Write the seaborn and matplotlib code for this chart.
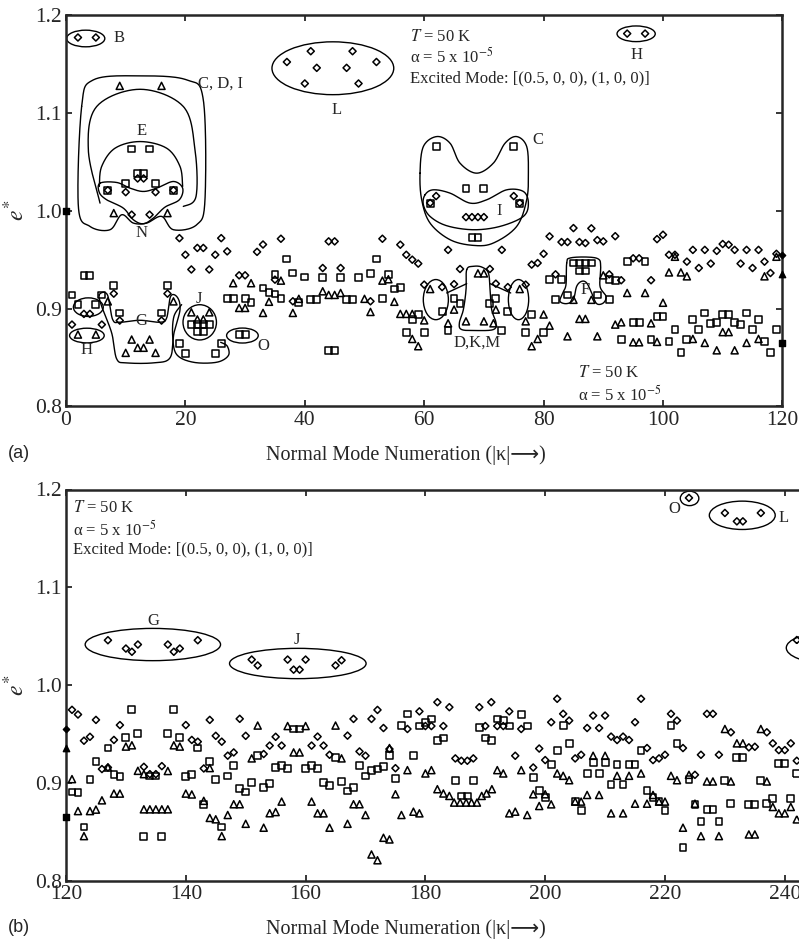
import numpy as np
import pandas as pd
import matplotlib
matplotlib.use("Agg")
import matplotlib.pyplot as plt
import seaborn as sns
from matplotlib.patches import Ellipse

sns.set_style("ticks")
plt.rcParams["font.family"] = ["Liberation Serif", "DejaVu Serif", "DejaVu Sans"]
plt.rcParams["mathtext.fontset"] = "stix"

# ---------------- data (mode number, e*) ----------------
diamonds_a = [
    (2, 1.177), (5, 1.177),
    (41, 1.163), (48, 1.163), (37, 1.152), (52, 1.152), (42, 1.146), (47, 1.146), (40, 1.130), (49, 1.130),
    (94, 1.181), (97, 1.181),
    (12, 1.033), (13, 1.033), (7, 1.021), (18, 1.021), (10, 1.019), (15, 1.019), (11, 0.996), (14, 0.996),
    (62, 1.015), (75, 1.015), (61, 1.008), (76, 1.008), (67, 0.9935), (68, 0.9935), (69, 0.9935), (70, 0.9935),
    (64, 0.960), (73, 0.960),
    (19, 0.972), (26, 0.972), (20, 0.955), (22, 0.962), (23, 0.962), (25, 0.955), (27, 0.9585), (21, 0.940),
    (24, 0.940), (32, 0.958), (33, 0.9655), (36, 0.9714), (29, 0.934), (30, 0.934), (35, 0.9296),
    (44, 0.9687), (45, 0.9687), (53, 0.9714), (56, 0.9653), (57, 0.955), (58, 0.950), (59, 0.946),
    (43, 0.9415), (46, 0.9415), (38, 0.9075), (51, 0.9075),
    (1, 0.8837), (3, 0.8946), (4, 0.8946), (6, 0.8837), (8, 0.9153), (17, 0.9153), (9, 0.8878), (16, 0.8878),
    (60, 0.9245), (63, 0.922), (65, 0.925), (66, 0.9405), (71, 0.9405), (72, 0.9255), (74, 0.922), (77, 0.9245),
    (78, 0.945), (79, 0.9466), (80, 0.956), (81, 0.9738), (82, 0.935), (83, 0.968), (84, 0.968), (85, 0.9823),
    (86, 0.968), (87, 0.967), (88, 0.982), (89, 0.970), (90, 0.9687), (91, 0.935), (92, 0.974), (93, 0.929),
    (95, 0.9514), (96, 0.9514), (98, 0.929), (99, 0.971), (100, 0.9755), (101, 0.955), (102, 0.955),
    (104, 0.948), (105, 0.960), (106, 0.9415), (107, 0.960), (108, 0.946), (109, 0.959), (110, 0.966),
    (111, 0.9653), (112, 0.960), (113, 0.946), (114, 0.960), (115, 0.9415), (116, 0.960), (117, 0.948),
    (118, 0.9364), (119, 0.956), (120, 0.955),
]
squares_a = [
    (0, 1.0),
    (11, 1.063), (14, 1.063), (12, 1.038), (13, 1.038), (10, 1.028), (15, 1.028), (7, 1.021), (18, 1.021),
    (62, 1.0656), (75, 1.0656), (67, 1.023), (70, 1.023), (61, 1.007), (76, 1.007), (68, 0.973), (69, 0.973),
    (3, 0.934), (4, 0.934), (1, 0.914), (2, 0.904), (5, 0.904), (6, 0.914), (8, 0.9235), (9, 0.8956),
    (17, 0.9235), (16, 0.8956),
    (21, 0.884), (22, 0.884), (23, 0.884), (24, 0.884), (22, 0.877), (23, 0.877), (19, 0.864), (20, 0.854),
    (25, 0.854), (26, 0.864), (29, 0.8735), (30, 0.8735),
    (27, 0.910), (28, 0.910), (30, 0.910), (31, 0.906), (33, 0.921), (34, 0.9166), (35, 0.915), (36, 0.910),
    (37, 0.9507), (52, 0.9507), (35, 0.9347), (38, 0.9364), (40, 0.9323), (43, 0.932), (46, 0.932),
    (49, 0.932), (51, 0.936), (54, 0.9347), (39, 0.906), (41, 0.909), (42, 0.909), (47, 0.909), (48, 0.909),
    (53, 0.910), (55, 0.920), (56, 0.9217), (44, 0.857), (45, 0.857),
    (59, 0.894), (58, 0.889), (57, 0.876), (60, 0.876), (65, 0.910), (66, 0.905), (71, 0.905), (72, 0.910),
    (63, 0.8973), (74, 0.8973), (64, 0.8776), (73, 0.8776),
    (78, 0.894), (77, 0.876), (80, 0.876), (81, 0.930), (83, 0.930), (85, 0.9466), (86, 0.9466),
    (87, 0.9466), (88, 0.9466), (86, 0.9384), (87, 0.9384), (82, 0.909), (84, 0.914), (89, 0.914),
    (91, 0.909), (91, 0.930), (92, 0.9286), (94, 0.948), (97, 0.948), (95, 0.886), (96, 0.886), (99, 0.892),
    (100, 0.892), (102, 0.8786), (105, 0.889), (107, 0.8956), (106, 0.8786), (108, 0.8847), (109, 0.886),
    (110, 0.894), (111, 0.894), (112, 0.886), (113, 0.8837), (114, 0.8956), (115, 0.8786), (116, 0.889),
    (119, 0.8786), (120, 0.865), (93, 0.8684), (98, 0.8684), (101, 0.8667), (103, 0.8554), (104, 0.8684),
    (117, 0.8667), (118, 0.8554),
]
triangles_a = [
    (9, 1.1276), (16, 1.1276), (8, 0.9976), (17, 0.9976),
    (2, 0.8735), (5, 0.8735), (7, 0.9074), (18, 0.9074),
    (11, 0.8684), (14, 0.8684), (12, 0.860), (13, 0.860), (10, 0.8548), (15, 0.8548),
    (21, 0.8962), (24, 0.8962), (22, 0.889), (23, 0.889),
    (28, 0.926), (31, 0.926), (33, 0.8956), (29, 0.9007), (30, 0.9007),
    (36, 0.9286), (53, 0.9286), (54, 0.930), (43, 0.9177), (44, 0.914), (45, 0.914), (46, 0.916),
    (34, 0.907), (39, 0.910), (50, 0.910), (55, 0.907), (38, 0.8956), (51, 0.8966),
    (56, 0.8946), (57, 0.8946), (58, 0.8946), (60, 0.888), (58, 0.869), (59, 0.8616), (61, 0.920),
    (76, 0.920), (69, 0.936), (70, 0.936), (65, 0.899), (72, 0.899), (64, 0.885), (67, 0.887),
    (70, 0.887), (71.6, 0.885),
    (77, 0.887), (80, 0.894), (79, 0.869), (78, 0.8616), (81, 0.8826), (85, 0.909), (88, 0.909),
    (86, 0.8895), (87, 0.8895), (84, 0.8717), (89, 0.8717), (90, 0.934), (94, 0.916), (97, 0.916),
    (100, 0.906), (92, 0.8837), (93, 0.886), (98, 0.885), (95, 0.8656), (96, 0.8656), (99, 0.866),
    (101, 0.937), (102, 0.953), (103, 0.937), (104, 0.933), (117, 0.933), (119, 0.953), (120, 0.9356),
    (110, 0.876), (111, 0.876), (105, 0.869), (107, 0.865), (109, 0.8574), (112, 0.8574), (114, 0.865),
    (116, 0.869),
]
diamonds_b = [
    (127, 1.0458), (130, 1.0373), (131, 1.034), (132, 1.0414), (137, 1.0414), (138, 1.034), (139, 1.0373),
    (142, 1.0458),
    (151, 1.026), (152, 1.020), (157, 1.026), (158, 1.0157), (159, 1.0157), (160, 1.026), (165, 1.020),
    (166, 1.0253),
    (224, 1.1914), (230, 1.176), (232, 1.1674), (233, 1.1674), (236, 1.176), (242, 1.046),
    (121, 0.9746), (122, 0.9698), (123, 0.943), (124, 0.947), (125, 0.9643), (126, 0.914), (127, 0.9156),
    (128, 0.9438), (129, 0.959), (133, 0.9163), (134, 0.9088), (135, 0.9088), (136, 0.917), (140, 0.959),
    (141, 0.9438), (142, 0.942), (143, 0.9146), (144, 0.9643), (145, 0.948), (146, 0.942), (147, 0.9277),
    (148, 0.931), (149, 0.9654), (150, 0.948), (153, 0.9294), (154, 0.938), (155, 0.947),
    (156, 0.938), (161, 0.938), (162, 0.9472), (163, 0.938), (164, 0.9286), (167, 0.9482), (168, 0.9653),
    (169, 0.932), (170, 0.9276), (171, 0.9653), (172, 0.9745), (173, 0.956), (174, 0.9345), (175, 0.9149),
    (177, 0.955), (179, 0.973), (180, 0.958), (181, 0.958), (182, 0.9824), (183, 0.958), (184, 0.9773),
    (185, 0.9249), (186, 0.9225), (187, 0.9225), (188, 0.9249), (189, 0.9773), (190, 0.958), (191, 0.9824),
    (192, 0.958), (193, 0.958), (194, 0.973), (195, 0.9276), (196, 0.955), (198, 0.9156), (199, 0.935),
    (200, 0.9232), (201, 0.9619), (202, 0.9859), (203, 0.9705), (204, 0.9636), (205, 0.9249), (206, 0.9286),
    (207, 0.956), (208, 0.9687), (209, 0.956), (210, 0.9687), (211, 0.9472), (212, 0.9437), (213, 0.9472),
    (214, 0.9437), (215, 0.9619), (216, 0.9859), (217, 0.9355), (218, 0.9232), (219, 0.9249), (220, 0.9286),
    (221, 0.9705), (222, 0.9636), (223, 0.9355), (225, 0.9081), (226, 0.9286), (227, 0.9705), (228, 0.9705),
    (229, 0.9286), (231, 0.9516), (234, 0.9362), (235, 0.9368), (237, 0.9516), (238, 0.9403), (239, 0.9334),
    (240, 0.9334), (241, 0.9403), (242, 0.9225),
]
squares_b = [
    (121, 0.8906), (122, 0.890), (123, 0.8547), (124, 0.9037), (125, 0.9215), (127, 0.9356), (128, 0.9088),
    (129, 0.906), (130, 0.9465), (131, 0.9746), (132, 0.9506), (133, 0.8454), (134, 0.907), (135, 0.907),
    (136, 0.8454), (137, 0.9506), (138, 0.9746), (139, 0.9465), (140, 0.906), (141, 0.9088), (142, 0.9356),
    (143, 0.878), (144, 0.9215), (145, 0.9037), (146, 0.8547), (147, 0.907), (148, 0.9174), (149, 0.894),
    (150, 0.8906), (151, 0.9003), (152, 0.9277), (153, 0.895), (154, 0.899), (155, 0.916),
    (156, 0.9173), (157, 0.9149), (158, 0.955), (159, 0.955), (160, 0.9149), (161, 0.9173), (162, 0.9149),
    (163, 0.9002), (164, 0.8968), (165, 0.9258), (166, 0.901), (167, 0.8916), (168, 0.895), (169, 0.9173),
    (170, 0.907), (171, 0.9129), (172, 0.914), (173, 0.9163), (174, 0.9276), (175, 0.9046), (176, 0.9585),
    (177, 0.9704), (178, 0.9276), (179, 0.958), (180, 0.9619), (181, 0.9653), (182, 0.943), (183, 0.9458),
    (185, 0.9026), (188, 0.9026), (186, 0.8865), (187, 0.8865), (189, 0.9567), (190, 0.9458), (191, 0.943),
    (192, 0.9653), (193, 0.9636), (194, 0.958), (196, 0.9698), (197, 0.958), (198, 0.9053),
    (199, 0.8923), (200, 0.8848), (201, 0.919), (202, 0.9328), (203, 0.9585), (204, 0.9403), (205, 0.8807),
    (206, 0.8718), (207, 0.9095), (208, 0.9208), (209, 0.9095), (210, 0.9208), (211, 0.8985), (212, 0.9184),
    (213, 0.8985), (214, 0.9184), (215, 0.9184), (216, 0.9328), (217, 0.8923), (218, 0.8848), (219, 0.8807),
    (220, 0.8718), (221, 0.9585), (222, 0.9403), (223, 0.834), (224, 0.9036), (225, 0.878), (226, 0.8601),
    (227, 0.8728), (228, 0.8728), (229, 0.8601), (230, 0.9026), (231, 0.8786), (232, 0.9259), (233, 0.9259),
    (234, 0.8779), (235, 0.8779), (236, 0.9026), (237, 0.8786), (238, 0.884), (239, 0.9197), (240, 0.9197),
    (241, 0.884), (242, 0.9095),
]
triangles_b = [
    (121, 0.9037), (122, 0.871), (123, 0.8454), (124, 0.871), (125, 0.8725), (126, 0.882), (127, 0.9156),
    (128, 0.8889), (129, 0.8889), (130, 0.937), (131, 0.9383), (132, 0.9122), (133, 0.9088), (133, 0.8728),
    (134, 0.8728), (135, 0.8728), (136, 0.8728), (137, 0.8728), (137, 0.912), (138, 0.9383), (139, 0.937),
    (140, 0.8889), (141, 0.888), (143, 0.8815), (144, 0.915), (144, 0.864), (145, 0.8626), (146, 0.8454),
    (147, 0.867), (148, 0.878), (149, 0.878), (150, 0.858), (151, 0.9249), (152, 0.9585), (153, 0.854),
    (154, 0.8688), (155, 0.870),
    (156, 0.8807), (157, 0.958), (158, 0.931), (159, 0.931), (160, 0.958), (161, 0.8807), (162, 0.8687),
    (163, 0.8687), (164, 0.854), (165, 0.9585), (166, 0.9249), (167, 0.858), (168, 0.878), (169, 0.878),
    (170, 0.867), (171, 0.8266), (172, 0.8207), (173, 0.8437), (174, 0.842), (174, 0.9355), (175, 0.8882),
    (176, 0.867), (177, 0.9129), (178, 0.8704), (179, 0.8687), (180, 0.9095), (181, 0.9129), (182, 0.8934),
    (183, 0.889), (184, 0.8865), (184.8, 0.8797), (185.8, 0.8797), (186.8, 0.8797), (187.7, 0.8797),
    (188.6, 0.8797), (189.4, 0.8865), (190.2, 0.889), (191.1, 0.8934),
    (192, 0.9129), (193, 0.9095), (194, 0.8687), (195, 0.8704), (196, 0.9129), (197, 0.867), (198, 0.8882),
    (199, 0.8762), (200, 0.8882), (201, 0.8779), (202, 0.9095), (203, 0.9071), (204, 0.9026), (205, 0.8807),
    (206, 0.8807), (207, 0.8875), (208, 0.9276), (209, 0.8875), (210, 0.9276), (211, 0.8687), (212, 0.9071),
    (213, 0.8687), (214, 0.9071), (215, 0.8786), (216, 0.9095), (217, 0.8786), (218, 0.8875), (219, 0.8807),
    (220, 0.8807), (221, 0.9071), (222, 0.9026), (223, 0.854), (224, 0.9081), (225, 0.8786), (226, 0.8454),
    (227, 0.9013), (228, 0.9013), (229, 0.8454), (230, 0.955), (231, 0.9013), (232, 0.9403), (233, 0.9403),
    (234, 0.8471), (235, 0.8471), (236, 0.955), (237, 0.9013), (238, 0.8752), (239, 0.8687), (240, 0.8687),
    (241, 0.8752), (242, 0.8625),
]

y_ticks = [0.8, 0.9, 1.0, 1.1, 1.2]
y_tick_labels = ["0.8", "0.9", "1.0", "1.1", "1.2"]
xticks_a = [0, 20, 40, 60, 80, 100, 120]
xticks_b = [120, 140, 160, 180, 200, 220, 240]
xlabel = "Normal Mode Numeration (|\u03ba|\u27f6)"

# ---------------- annotation geometry ----------------
ellipses_a = [((3.3, 1.176), 6.4, 0.017), ((3.74, 0.9015), 5.0, 0.019), ((3.5, 0.8725), 5.8, 0.015),
              ((29.55, 0.8725), 5.3, 0.0153), ((44.7, 1.1456), 20.4, 0.054), ((95.5, 1.1808), 6.4, 0.016),
              ((22.4, 0.886), 5.6, 0.036), ((61.95, 0.9092), 4.2, 0.041), ((75.8, 0.9092), 3.4, 0.041)]
ellipses_b = [((134.5, 1.0414), 22.6, 0.033), ((158.7, 1.022), 22.8, 0.031), ((224.1, 1.1909), 3.1, 0.0148),
              ((232.9, 1.1736), 11.0, 0.029), ((247.0, 1.038), 13.5, 0.031)]
blobs_closed_a = [
    [(2.62, 1.1065), (4.58, 1.1337), (12.4, 1.1378), (20.21, 1.1337), (23.0, 1.1133), (23.28, 1.0112),
     (21.89, 0.9857), (18.0, 0.9806), (16.03, 0.9942), (13.51, 0.9874), (11.28, 0.9874), (9.32, 0.9959),
     (7.37, 0.9806), (4.02, 0.984), (2.07, 1.0044)],
    [(5.7, 1.0282), (8.49, 1.0289), (10.72, 1.0231), (12.95, 1.0197), (15.19, 1.0231), (17.98, 1.0299),
     (19.54, 1.0231), (18.98, 1.0112), (16.58, 1.0037), (14.63, 0.9925), (12.95, 0.9867), (11.28, 0.9908),
     (9.6, 1.0027), (6.81, 1.0112), (5.58, 1.0187)],
    [(5.58, 0.9143), (6.92, 0.9143), (7.82, 0.8888), (9.05, 0.8861), (12.4, 0.8881), (15.75, 0.8861),
     (16.86, 0.8905), (17.53, 0.9126), (18.65, 0.9116), (19.1, 0.899), (18.09, 0.8752), (17.42, 0.8497),
     (14.63, 0.8446), (10.16, 0.8446), (8.49, 0.8486), (7.65, 0.8752), (5.97, 0.9024)],
    [(59.3, 1.0384), (59.86, 1.0656), (62.09, 1.0758), (64.33, 1.069), (66.0, 1.0486), (68.79, 1.0384),
     (71.58, 1.0486), (73.54, 1.069), (75.49, 1.0758), (77.17, 1.0656), (77.45, 1.0384), (77.17, 1.0112),
     (75.49, 0.984), (71.58, 0.967), (68.23, 0.9646), (64.33, 0.9704), (60.98, 0.9874), (59.58, 1.0112)],
    [(60.14, 1.0163), (61.53, 1.0214), (64.33, 1.018), (67.68, 1.0078), (70.47, 1.0112), (73.82, 1.0214),
     (76.61, 1.0197), (77.45, 1.0078), (76.61, 0.9942), (72.7, 0.984), (68.23, 0.9806), (63.77, 0.9847),
     (60.98, 0.9942), (59.86, 1.0061)],
    [(67.12, 0.9398), (68.23, 0.9432), (69.63, 0.9425), (70.75, 0.9364), (71.03, 0.9194), (71.3, 0.899),
     (72.03, 0.8854), (71.58, 0.8786), (68.79, 0.8776), (66.28, 0.8786), (65.89, 0.8854), (66.56, 0.899),
     (67.01, 0.9194)],
    [(83.87, 0.9466), (84.42, 0.9517), (87.22, 0.9527), (89.17, 0.9507), (89.56, 0.9432), (89.45, 0.9228),
     (90.45, 0.9126), (90.01, 0.9058), (88.89, 0.9051), (88.05, 0.916), (87.22, 0.9262), (86.38, 0.9279),
     (85.54, 0.9228), (84.98, 0.9092), (83.87, 0.9051), (82.75, 0.9075), (83.2, 0.916), (83.75, 0.9245)],
]
blobs_open_a = [
    [(5.7, 1.0078), (3.74, 1.0622), (5.14, 1.1065), (12.4, 1.1241), (19.65, 1.1065), (21.61, 1.0622),
     (21.78, 1.0146), (19.65, 1.0044)],
    [(5.58, 1.0248), (5.97, 1.0452), (8.21, 1.0639), (12.4, 1.0707), (16.86, 1.0639), (19.1, 1.0452),
     (19.54, 1.0248)],
    [(19.37, 0.9041), (18.09, 0.8922), (17.87, 0.8718), (18.54, 0.8531), (21.33, 0.8452), (25.24, 0.8452),
     (27.19, 0.852), (27.02, 0.8616), (25.91, 0.8656)],
]
segments_a = [[(63.77, 0.916), (67.12, 0.9255)], [(71.03, 0.9255), (74.49, 0.916)]]
labels_a = [("B", 8.8, 1.176), ("C, D, I", 25.8, 1.1303), ("E", 12.6, 1.0816), ("N", 12.7, 0.977),
            ("G", 12.7, 0.8878), ("H", 3.46, 0.858), ("J", 22.3, 0.910), ("O", 33.0, 0.8616),
            ("L", 45.3, 1.103), ("C", 79.1, 1.0725), ("I", 72.6, 0.9993), ("D,K,M", 68.8, 0.865),
            ("F", 86.9, 0.9187), ("H", 95.6, 1.159)]
labels_b = [("G", 134.6, 1.0654), ("J", 158.6, 1.0458), ("O", 221.5, 1.180), ("L", 239.8, 1.171)]


def catmull(pts, closed=True, n=24):
    P = np.asarray(pts, float)
    if not closed:
        P = np.vstack([P[0], P, P[-1]])
        idx = range(1, len(P) - 2)
    else:
        idx = range(len(P))
    N = len(P)
    t = np.linspace(0, 1, n, endpoint=False)[:, None]
    segs = []
    for i in idx:
        p0, p1, p2, p3 = P[(i - 1) % N], P[i], P[(i + 1) % N], P[(i + 2) % N]
        segs.append(0.5 * (2 * p1 + (-p0 + p2) * t + (2 * p0 - 5 * p1 + 4 * p2 - p3) * t ** 2
                           + (-p0 + 3 * p1 - 3 * p2 + p3) * t ** 3))
    out = np.vstack(segs)
    out = np.vstack([out, out[:1]]) if closed else np.vstack([out, P[-2]])
    return out


fig = plt.figure(figsize=(7.99, 9.41), dpi=100)
axA = fig.add_axes([66 / 799, 1 - 406.5 / 941, 716.4 / 799, 391.5 / 941])
axB = fig.add_axes([66 / 799, 1 - 880.5 / 941, 130 * 5.99 / 799, 391 / 941])

all_series = [
    (diamonds_a + diamonds_b, "D", 13),
    (squares_a + squares_b, "s", 24),
    (triangles_a + triangles_b, "^", 26),
]


def draw(ax, lo, hi):
    for pts, mk, s in all_series:
        df = pd.DataFrame(pts, columns=["mode", "e"])
        df = df[(df["mode"] >= lo) & (df["mode"] <= hi)]
        edge = df["mode"].isin([lo, 120]) if lo == 0 else df["mode"].isin([120])
        sns.scatterplot(data=df[~edge], x="mode", y="e", marker=mk, s=s, facecolor="none",
                        edgecolor="black", linewidth=1.1, ax=ax, zorder=3, legend=False)
        sns.scatterplot(data=df[edge], x="mode", y="e", marker=mk, s=s * 0.8, facecolor="black",
                        edgecolor="black", linewidth=1.0, ax=ax, zorder=4, legend=False, clip_on=False)


draw(axA, 0, 120)
draw(axB, 120, 250)

for ax, ells in [(axA, ellipses_a), (axB, ellipses_b)]:
    for c, w, h in ells:
        ax.add_patch(Ellipse(c, w, h, fill=False, ec="black", lw=1.0, zorder=2))
for pts in blobs_closed_a:
    cv = catmull(pts, True)
    axA.plot(cv[:, 0], cv[:, 1], color="black", lw=1.0, zorder=2)
for pts in blobs_open_a:
    cv = catmull(pts, False)
    axA.plot(cv[:, 0], cv[:, 1], color="black", lw=1.0, zorder=2)
for seg in segments_a:
    s_ = np.array(seg)
    axA.plot(s_[:, 0], s_[:, 1], color="black", lw=1.0, zorder=2)
for ax, labs in [(axA, labels_a), (axB, labels_b)]:
    for t, x, y in labs:
        ax.text(x, y, t, fontsize=12, ha="center", va="center", zorder=5)

# parameter boxes
axA.text(57.6, 1.178, "$T$ = 50 K", fontsize=12, va="center")
axA.text(57.6, 1.1575, "\u03b1 = 5 x 10$^{\\mathrm{-5}}$", fontsize=12, va="center")
axA.text(57.6, 1.135, "Excited Mode: [(0.5, 0, 0), (1, 0, 0)]", fontsize=12, va="center")
axA.text(85.8, 0.8344, "$T$ = 50 K", fontsize=12, va="center")
axA.text(85.8, 0.8122, "\u03b1 = 5 x 10$^{\\mathrm{-5}}$", fontsize=12, va="center")
axB.text(121.2, 1.181, "$T$ = 50 K", fontsize=12, va="center")
axB.text(121.2, 1.159, "\u03b1 = 5 x 10$^{\\mathrm{-5}}$", fontsize=12, va="center")
axB.text(121.2, 1.139, "Excited Mode: [(0.5, 0, 0), (1, 0, 0)]", fontsize=12, va="center")

for ax, (lo, hi), xt, w in [(axA, (0, 120), xticks_a, 716.4), (axB, (120, 250), xticks_b, 778.7)]:
    ax.set_xlim(lo, hi)
    ax.set_ylim(0.8, 1.2)
    ax.set_xticks(xt)
    ax.set_xticklabels([str(v) for v in xt])
    ax.set_yticks(y_ticks)
    ax.set_yticklabels(y_tick_labels)
    ax.tick_params(direction="in", top=True, right=True, length=4, width=1.3, labelsize=15.5, pad=3)
    for sp in ax.spines.values():
        sp.set_linewidth(1.8)
    ax.set_xlabel(xlabel, fontsize=14.5, family=["Liberation Serif", "DejaVu Sans"])
    ax.xaxis.set_label_coords((406 - 66) / w, -0.10)
    ax.set_ylabel("$e^{*}$", fontsize=17)
    ax.yaxis.set_label_coords((29 - 66) / w, 0.5)

fig.text(8 / 799, 1 - 454 / 941, "(a)", ha="left", va="center", family="Liberation Sans", fontsize=13)
fig.text(8 / 799, 1 - 927 / 941, "(b)", ha="left", va="center", family="Liberation Sans", fontsize=13)

fig.savefig("out.png", dpi=100)
